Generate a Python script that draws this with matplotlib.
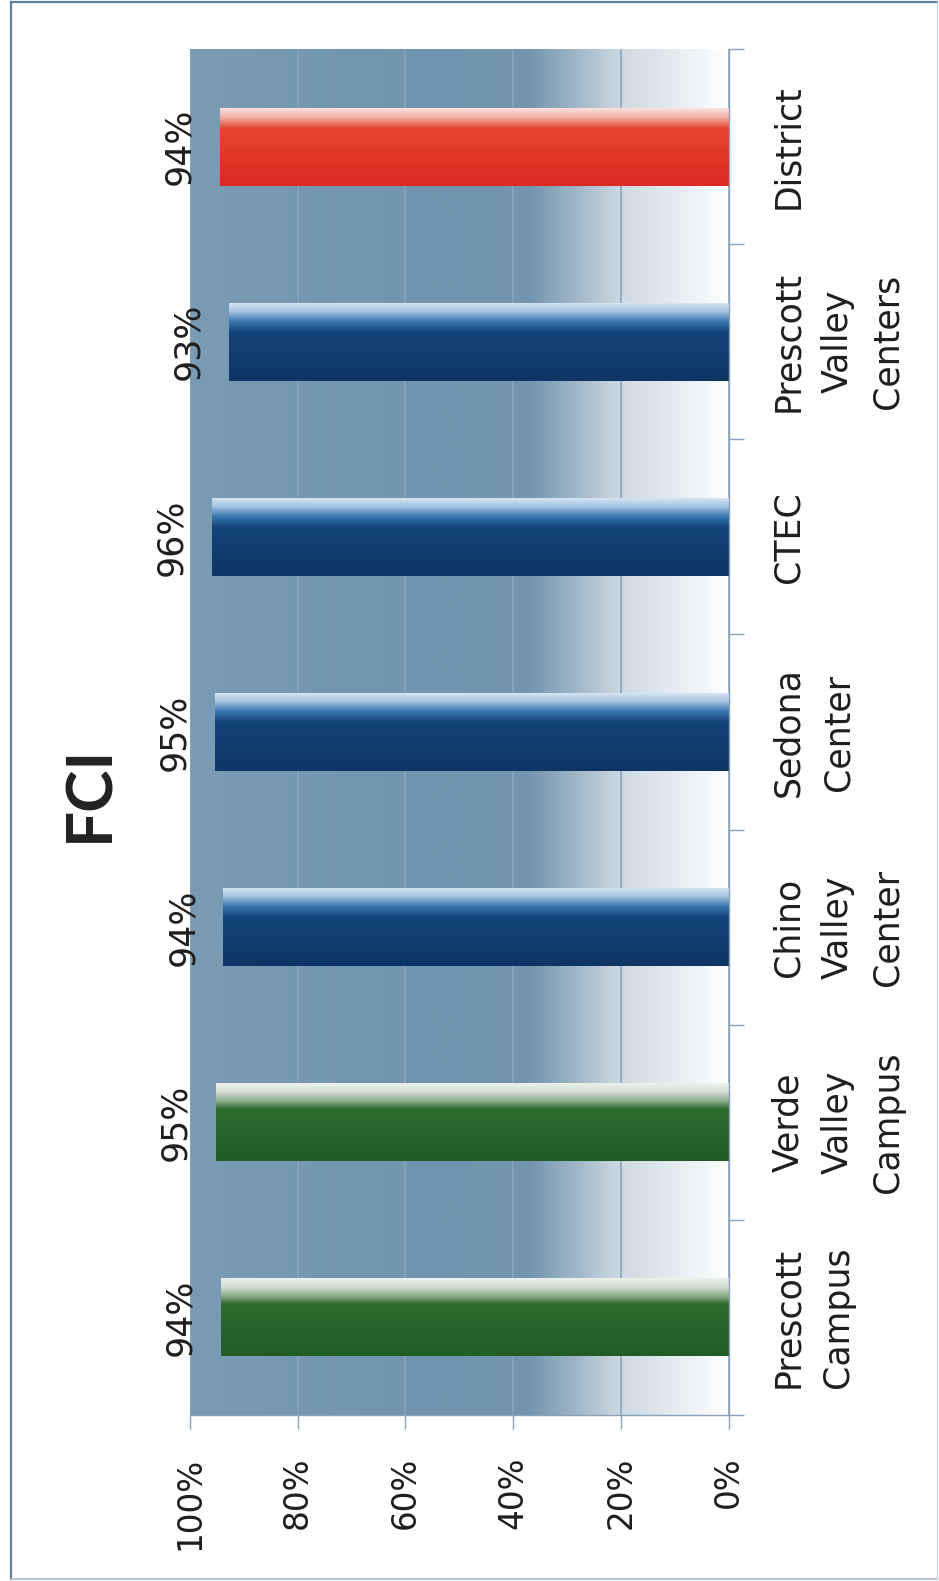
import numpy as np
import matplotlib
matplotlib.use("Agg")
import matplotlib.pyplot as plt
from matplotlib.colors import LinearSegmentedColormap
from matplotlib.lines import Line2D

# ---------------- data ----------------
categories = ["Prescott\nCampus", "Verde\nValley\nCampus", "Chino\nValley\nCenter",
              "Sedona\nCenter", "CTEC", "Prescott\nValley\nCenters", "District"]
values = [0.943, 0.952, 0.938, 0.954, 0.960, 0.927, 0.944]
groups = ["campus", "campus", "center", "center", "center", "center", "district"]
x_ticks = [0.0, 0.2, 0.4, 0.6, 0.8, 1.0]
x_tick_labels = ["0%", "20%", "40%", "60%", "80%", "100%"]
title = "FCI"

# ---------------- styles ----------------
bar_stops = {
    "campus": [(0.0, "#f0f4f0"), (0.12, "#d3dfd2"), (0.24, "#8cab8b"), (0.34, "#2e6c2f"), (1.0, "#215c24")],
    "center": [(0.0, "#dce9f4"), (0.12, "#a3c3e0"), (0.24, "#3a78b1"), (0.38, "#13437a"), (1.0, "#0e3564")],
    "district": [(0.0, "#fce8e4"), (0.12, "#f2b3aa"), (0.27, "#e6442f"), (1.0, "#dc2a22")],
}
bg_stops = [(0.0, "#7a9bb4"), (0.45, "#7094af"), (0.63, "#7395af"), (0.73, "#a6bbcb"),
            (0.80, "#cdd9e2"), (0.91, "#e7edf2"), (0.985, "#fafbfc"), (1.0, "#ffffff")]
axis_col = "#8aa2b8"
text_col = "#1e1e1e"

fig = plt.figure(figsize=(9.39, 15.81), dpi=100)
ax = fig.add_axes([190 / 939, 1 - 1415 / 1581, 538.5 / 939, 1366 / 1581])

# background gradient
bg_cmap = LinearSegmentedColormap.from_list("bg", bg_stops)
ax.imshow(np.linspace(0, 1, 600).reshape(1, -1), extent=(0, 1, 0, 1), transform=ax.transAxes,
          cmap=bg_cmap, aspect="auto", zorder=0, interpolation="bilinear")

ypos = np.arange(len(categories))
bars = ax.barh(ypos, values, height=0.4, color="none", linewidth=0, zorder=2)

for bar, g in zip(bars, groups):
    cmap = LinearSegmentedColormap.from_list(g, bar_stops[g])
    x0, y0 = bar.get_x(), bar.get_y()
    w, h = bar.get_width(), bar.get_height()
    grad = np.linspace(1, 0, 256).reshape(-1, 1)
    im = ax.imshow(grad, cmap=cmap, extent=(x0, x0 + w, y0, y0 + h), origin="lower",
                   aspect="auto", zorder=2.1, interpolation="bilinear")
    im.set_clip_path(bar)

for v, y in zip(values, ypos):
    ax.annotate(f"{round(v * 100):d}%", xy=(v, y), xytext=(-17, 0), textcoords="offset points",
                rotation=90, ha="right", va="center", fontsize=25, color=text_col)

ax.set_xlim(1.0, 0.0)
ax.set_ylim(-0.5, len(categories) - 0.5)

# grid
ax.set_xticks(x_ticks)
ax.set_xticklabels(x_tick_labels, rotation=90, fontsize=23.5, color=text_col)
ax.xaxis.grid(True, color="#88a5be", linewidth=1.2, zorder=1)
ax.set_axisbelow(True)
ax.tick_params(axis="x", length=10, width=1, color=axis_col, pad=20, direction="out")

# category axis on the right
ax.yaxis.tick_right()
ax.set_yticks(ypos)
ax.set_yticklabels(categories, rotation=90, fontsize=25, color=text_col,
                   linespacing=1.58, multialignment="center")
for t in ax.get_yticklabels():
    t.set_va("center")
    t.set_ha("left")
ax.set_yticks(np.arange(-0.5, len(categories), 1.0), minor=True)
ax.tick_params(axis="y", which="major", length=0, pad=31)
ax.tick_params(axis="y", which="minor", length=11, width=1, color=axis_col,
               direction="out", right=True, left=False)

for s in ["top", "left"]:
    ax.spines[s].set_visible(False)
for s in ["right", "bottom"]:
    ax.spines[s].set_color(axis_col)
    ax.spines[s].set_linewidth(1)

fig.text(90 / 939, 1 - 793 / 1581, title, rotation=90, ha="center", va="center",
         fontsize=46, fontweight="bold", family="Lato", color="#222222")

# outer frame: darker top/left, faint bottom/right
L, R, B, T = 11 / 939, 937 / 939, 2 / 1581, 1 - 2 / 1581
fig.add_artist(Line2D([L, R], [T, T], transform=fig.transFigure, color="#5d7f9f", lw=1.6))
fig.add_artist(Line2D([L, L], [B, T], transform=fig.transFigure, color="#5d7f9f", lw=1.6))
fig.add_artist(Line2D([L, R], [B, B], transform=fig.transFigure, color="#a9bfd3", lw=1.2))
fig.add_artist(Line2D([R, R], [B, T], transform=fig.transFigure, color="#c9d7e4", lw=1.0))

fig.savefig("out.png", dpi=100)
